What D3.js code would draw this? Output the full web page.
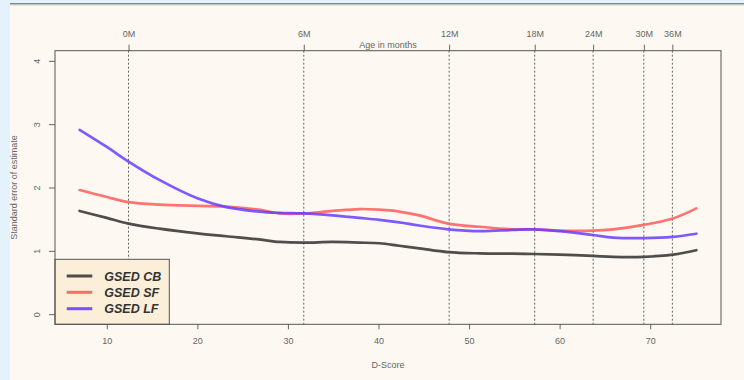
<!DOCTYPE html>
<html>
<head>
<meta charset="utf-8">
<script src="https://cdn.jsdelivr.net/npm/d3@7"></script>
<style>
  html, body { margin: 0; padding: 0; background: #fdf9f2; }
  svg { display: block; }
  text { font-family: "Liberation Sans", Arial, sans-serif; }
</style>
</head>
<body>
<svg id="chart" width="744" height="380"></svg>
<script>
// ---- data ----
const dscore = [7, 10, 12.4, 15.8, 20, 23.2, 26.8, 29.1, 31.75, 34.9, 37.9, 40.1, 42.3, 44.5, 47.7, 51.2, 54.8, 57.2, 60, 63.7, 65.9, 69.3, 72.5, 75.1];
const seCB = [1.63, 1.52, 1.43, 1.35, 1.275, 1.23, 1.18, 1.14, 1.13, 1.14, 1.13, 1.12, 1.08, 1.04, 0.98, 0.96, 0.955, 0.95, 0.94, 0.92, 0.905, 0.905, 0.94, 1.01];
const seSF = [1.96, 1.85, 1.77, 1.73, 1.71, 1.70, 1.65, 1.59, 1.59, 1.63, 1.66, 1.65, 1.62, 1.56, 1.43, 1.38, 1.34, 1.34, 1.32, 1.32, 1.34, 1.41, 1.51, 1.67];
const seLF = [2.91, 2.64, 2.41, 2.12, 1.83, 1.69, 1.62, 1.60, 1.59, 1.56, 1.52, 1.49, 1.45, 1.40, 1.34, 1.31, 1.33, 1.34, 1.31, 1.25, 1.21, 1.20, 1.22, 1.27];
const seriesNames = ["GSED CB", "GSED SF", "GSED LF"];
const seriesColors = ["#3b3b3b", "#ff5c5c", "#6a3dff"];
const xTicks = [10, 20, 30, 40, 50, 60, 70];
const yTicks = [0, 1, 2, 3, 4];
const monthLabels = ["0M", "6M", "12M", "18M", "24M", "30M", "36M"];
const monthDscore = [12.4, 31.75, 47.8, 57.25, 63.7, 69.3, 72.45];

// ---- layout ----
const svg = d3.select("#chart");
const W = 744, H = 380;
const box = { left: 55, right: 721, top: 50.7, bottom: 324.3 };

svg.append("rect").attr("x", 0).attr("y", 0).attr("width", W).attr("height", H).attr("fill", "#fdf9f2");
svg.append("rect").attr("x", 0).attr("y", 0).attr("width", 10).attr("height", H).attr("fill", "#e3f2fb");
svg.append("rect").attr("x", 10).attr("y", 0).attr("width", W - 10).attr("height", 3).attr("fill", "#e3f2fb");
svg.append("rect").attr("x", 10).attr("y", 3).attr("width", W - 10).attr("height", 1.5).attr("fill", "#7b8787");
svg.append("rect").attr("x", 10).attr("y", 4.5).attr("width", W - 10).attr("height", 1).attr("fill", "#c9cfcc");

const x = d3.scaleLinear().domain([4.28, 77.82]).range([box.left, box.right]);
const y = d3.scaleLinear().domain([-0.16, 4.16]).range([box.bottom, box.top]);

const gray = "#666";
const txt = "#666";

// bottom axis
const xAxis = svg.append("g").attr("transform", `translate(0,${box.bottom})`)
  .call(d3.axisBottom(x).tickValues(xTicks).tickSize(5).tickPadding(8).tickFormat(d3.format("d")));
xAxis.select(".domain").remove();
xAxis.selectAll("line").attr("stroke", gray);
xAxis.selectAll("text").attr("fill", txt).attr("font-size", 9).attr("font-family", "Liberation Sans, Arial, sans-serif");

// left axis
const yAxis = svg.append("g").attr("transform", `translate(${box.left},0)`)
  .call(d3.axisLeft(y).tickValues(yTicks).tickSize(6).tickFormat(d3.format("d")));
yAxis.select(".domain").remove();
yAxis.selectAll("line").attr("stroke", gray);
yAxis.selectAll(".tick text")
  .attr("fill", txt).attr("font-size", 9).attr("font-family", "Liberation Sans, Arial, sans-serif")
  .attr("text-anchor", "middle")
  .attr("transform", "translate(-15,0) rotate(-90)").attr("x", 0).attr("y", 0).attr("dy", "0");

// top axis (months)
const topAxis = svg.append("g").attr("transform", `translate(0,${box.top})`)
  .call(d3.axisTop(x).tickValues(monthDscore).tickSize(6).tickPadding(8)
    .tickFormat((d, i) => monthLabels[i]));
topAxis.select(".domain").remove();
topAxis.selectAll("line").attr("stroke", gray);
topAxis.selectAll("text").attr("fill", txt).attr("font-size", 9).attr("font-family", "Liberation Sans, Arial, sans-serif");

// dashed month lines
svg.append("g").selectAll("line").data(monthDscore).join("line")
  .attr("x1", d => x(d)).attr("x2", d => x(d))
  .attr("y1", box.top).attr("y2", box.bottom)
  .attr("stroke", "#555").attr("stroke-width", 0.9).attr("stroke-dasharray", "2,2");

// titles
svg.append("text").attr("x", (box.left + box.right) / 2).attr("y", 48)
  .attr("text-anchor", "middle").attr("font-size", 9).attr("fill", txt).text("Age in months");
svg.append("text").attr("x", (box.left + box.right) / 2).attr("y", 368)
  .attr("text-anchor", "middle").attr("font-size", 9).attr("fill", txt).text("D-Score");
svg.append("text").attr("transform", `translate(16.5,${(box.top + box.bottom) / 2}) rotate(-90)`)
  .attr("text-anchor", "middle").attr("font-size", 9).attr("fill", txt).text("Standard error of estimate");

// lines
const allSeries = [seCB, seSF, seLF];
const line = d3.line().x((d, i) => x(dscore[i])).y(d => y(d)).curve(d3.curveCatmullRom.alpha(0.5));
svg.append("g").selectAll("path").data(allSeries).join("path")
  .attr("d", d => line(d))
  .attr("fill", "none")
  .attr("stroke", (d, i) => seriesColors[i])
  .attr("stroke-width", 2.7)
  .attr("stroke-opacity", (d, i) => i === 0 ? 0.9 : 0.85)
  .attr("stroke-linecap", "round");

// legend
const lg = svg.append("g");
lg.append("rect").attr("x", box.left).attr("y", 259.3).attr("width", 114.3).attr("height", box.bottom - 259.3)
  .attr("fill", "#fcefd9").attr("stroke", "#555").attr("stroke-width", 1);
const rowY = [276, 292.3, 308.7];
seriesNames.forEach((name, i) => {
  lg.append("line").attr("x1", 66.7).attr("x2", 92.3).attr("y1", rowY[i]).attr("y2", rowY[i])
    .attr("stroke", seriesColors[i]).attr("stroke-width", 3).attr("stroke-opacity", 0.9);
  lg.append("text").attr("x", 104.3).attr("y", rowY[i]).attr("dy", "0.36em")
    .attr("font-size", 12.5).attr("font-weight", "bold").attr("font-style", "italic")
    .attr("fill", "#333").text(name);
});

// plot box
svg.append("rect").attr("x", box.left).attr("y", box.top)
  .attr("width", box.right - box.left).attr("height", box.bottom - box.top)
  .attr("fill", "none").attr("stroke", "#555").attr("stroke-width", 1);
</script>
</body>
</html>
